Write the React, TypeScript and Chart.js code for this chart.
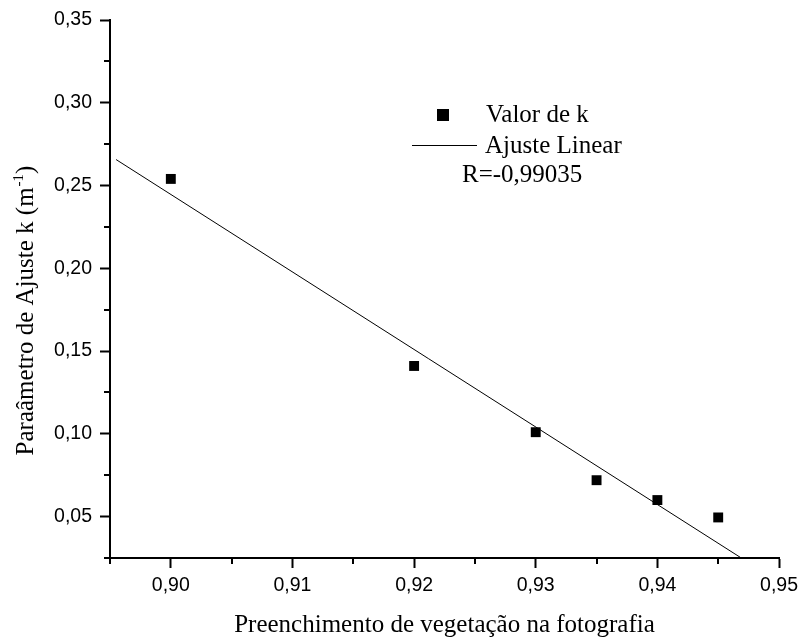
import React, { useEffect, useRef } from 'react';
import { Chart, registerables } from 'chart.js';

Chart.register(...registerables);

// ---- data ----
const xValues = [0.90, 0.92, 0.93, 0.935, 0.94, 0.945];
const kValues = [0.254, 0.141, 0.101, 0.072, 0.060, 0.0495];
const fitX = [0.8955, 0.9469];
const fitY = [0.2657, 0.025];
const xMajorTicks = [0.90, 0.91, 0.92, 0.93, 0.94, 0.95];
const xMinorTicks = [0.895, 0.905, 0.915, 0.925, 0.935, 0.945];
const yMajorTicks = [0.05, 0.10, 0.15, 0.20, 0.25, 0.30, 0.35];
const yMinorTicks = [0.025, 0.075, 0.125, 0.175, 0.225, 0.275, 0.325];
const xTitle = 'Preenchimento de vegetação na fotografia';
const yTitleMain = 'Paraâmetro de Ajuste k (m';
const yTitleSup = '-1';
const yTitleEnd = ')';
const legendLabels = ['Valor de k', 'Ajuste Linear', 'R=-0,99035'];

const fmt = (v: number) => v.toFixed(2).replace('.', ',');
const SERIF = '"Liberation Serif", "Times New Roman", serif';
const SANS = '"Liberation Sans", Arial, sans-serif';

const overlayPlugin = {
  id: 'overlay',
  afterDraw(chart: any) {
    const ctx = chart.ctx as CanvasRenderingContext2D;
    const xs = chart.scales.x;
    const ys = chart.scales.y;
    const area = chart.chartArea;
    ctx.save();
    // minor ticks
    ctx.strokeStyle = '#000';
    ctx.lineWidth = 2;
    ctx.beginPath();
    xMinorTicks.forEach((v) => {
      const px = Math.round(xs.getPixelForValue(v));
      ctx.moveTo(px, area.bottom);
      ctx.lineTo(px, area.bottom + 6);
    });
    yMinorTicks.forEach((v) => {
      const py = Math.round(ys.getPixelForValue(v));
      ctx.moveTo(area.left, py);
      ctx.lineTo(area.left - 6, py);
    });
    ctx.stroke();

    // x title
    ctx.fillStyle = '#000';
    ctx.font = `25px ${SERIF}`;
    ctx.textAlign = 'center';
    ctx.textBaseline = 'alphabetic';
    ctx.fillText(xTitle, (area.left + area.right) / 2, 632);

    // y title (rotated, with superscript)
    ctx.textAlign = 'left';
    ctx.font = `25px ${SERIF}`;
    const w1 = ctx.measureText(yTitleMain).width;
    const w3 = ctx.measureText(yTitleEnd).width;
    ctx.font = `15px ${SERIF}`;
    const w2 = ctx.measureText(yTitleSup).width;
    const total = w1 + w2 + w3;
    const cy = 311;
    ctx.save();
    ctx.translate(33, cy + total / 2);
    ctx.rotate(-Math.PI / 2);
    ctx.font = `25px ${SERIF}`;
    ctx.fillText(yTitleMain, 0, 0);
    ctx.font = `15px ${SERIF}`;
    ctx.fillText(yTitleSup, w1 + 1, -10);
    ctx.font = `25px ${SERIF}`;
    ctx.fillText(yTitleEnd, w1 + w2 + 1, 0);
    ctx.restore();

    // legend
    ctx.fillStyle = '#000';
    ctx.fillRect(437, 109, 12, 12);
    ctx.lineWidth = 1;
    ctx.beginPath();
    ctx.moveTo(412, 145.5);
    ctx.lineTo(477, 145.5);
    ctx.stroke();
    ctx.font = `25px ${SERIF}`;
    ctx.textAlign = 'left';
    ctx.fillText(legendLabels[0], 486, 122);
    ctx.fillText(legendLabels[1], 485, 153);
    ctx.fillText(legendLabels[2], 462, 182);
    ctx.restore();
  },
};

export default function App() {
  const ref = useRef<HTMLCanvasElement | null>(null);

  useEffect(() => {
    document.body.style.margin = '0';
    const canvas = ref.current;
    if (!canvas) return;
    const chart = new Chart(canvas, {
      type: 'scatter',
      data: {
        datasets: [
          {
            label: legendLabels[0],
            data: xValues.map((x, i) => ({ x, y: kValues[i] })),
            pointStyle: 'rect',
            pointRadius: 7,
            pointHoverRadius: 7,
            pointBorderWidth: 0,
            backgroundColor: '#000',
            borderColor: '#000',
          },
          {
            label: legendLabels[1],
            data: fitX.map((x, i) => ({ x, y: fitY[i] })),
            showLine: true,
            pointRadius: 0,
            borderWidth: 1,
            borderColor: '#000',
            backgroundColor: '#000',
          } as any,
        ],
      },
      options: {
        responsive: false,
        animation: false,
        devicePixelRatio: 1,
        layout: { padding: { top: 20, right: 24, left: 0, bottom: 0 } },
        plugins: {
          legend: { display: false },
          tooltip: { enabled: false },
        },
        scales: {
          x: {
            type: 'linear',
            min: 0.895,
            max: 0.95,
            afterBuildTicks: (s: any) => {
              s.ticks = xMajorTicks.map((v) => ({ value: v }));
            },
            afterFit: (s: any) => {
              s.height = 84;
            },
            ticks: {
              autoSkip: false,
              maxRotation: 0,
              padding: 6,
              color: '#000',
              font: { family: SANS, size: 19.5 },
              callback: (v: any) => fmt(Number(v)),
            },
            grid: {
              drawOnChartArea: false,
              tickLength: 10,
              tickWidth: 2,
              tickColor: '#000',
            },
            border: { display: true, color: '#000', width: 2 },
          },
          y: {
            type: 'linear',
            min: 0.025,
            max: 0.35,
            afterBuildTicks: (s: any) => {
              s.ticks = yMajorTicks.map((v) => ({ value: v }));
            },
            afterFit: (s: any) => {
              s.width = 110;
            },
            ticks: {
              autoSkip: false,
              padding: 8,
              color: '#000',
              font: { family: SANS, size: 19.5 },
              callback: (v: any) => fmt(Number(v)),
            },
            grid: {
              drawOnChartArea: false,
              tickLength: 10,
              tickWidth: 2,
              tickColor: '#000',
            },
            border: { display: true, color: '#000', width: 2 },
          },
        },
      },
      plugins: [overlayPlugin],
    });
    return () => chart.destroy();
  }, []);

  return (
    <div style={{ width: 804, height: 642, background: '#fff' }}>
      <canvas ref={ref} width={804} height={642} style={{ width: 804, height: 642, display: 'block' }} />
    </div>
  );
}
